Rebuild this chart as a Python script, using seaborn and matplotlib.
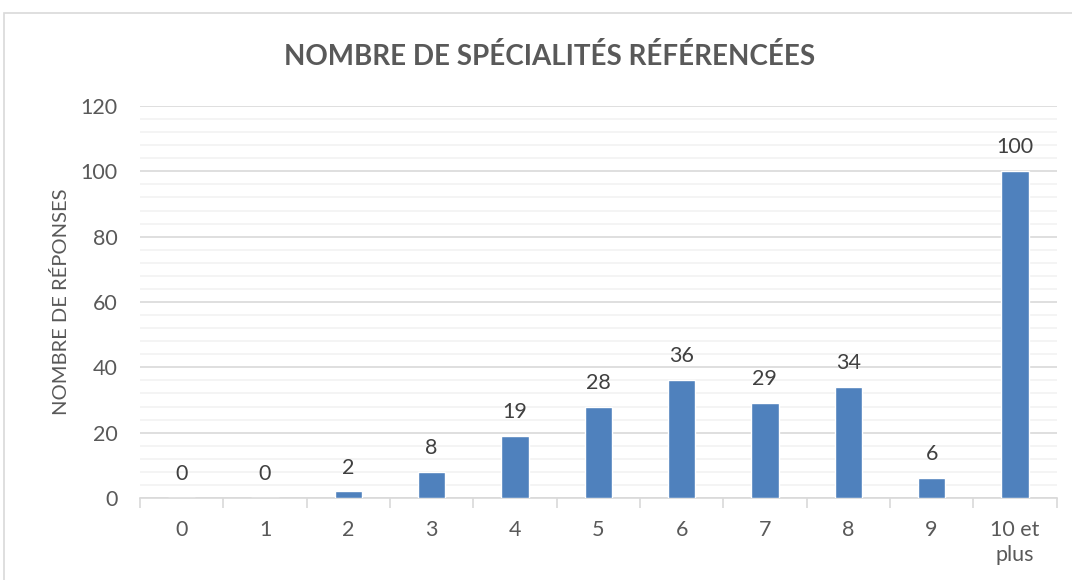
#!/usr/bin/env python3

import numpy as np
import pandas as pd
import matplotlib
matplotlib.use("Agg")
import matplotlib.pyplot as plt
from matplotlib.patches import Rectangle
from matplotlib.ticker import MultipleLocator
import seaborn as sns

# ======================================================
# DATA
# ======================================================
CATEGORIES = ["0", "1", "2", "3", "4", "5", "6", "7", "8", "9", "10 et\nplus"]
RESPONSES = [0, 0, 2, 8, 19, 28, 36, 29, 34, 6, 100]

TITLE = "NOMBRE DE SPÉCIALITÉS RÉFÉRENCÉES"
YLABEL = "NOMBRE DE RÉPONSES"

BAR_COLOR = "#4F81BD"
TEXT_COLOR = "#595959"

# ======================================================
# PLOT
# ======================================================
sns.set_theme(style="white")
plt.rcParams["font.family"] = ["Lato", "DejaVu Sans"]

df = pd.DataFrame({"Categorie": CATEGORIES, "Reponses": RESPONSES})

fig = plt.figure(figsize=(10.72, 5.8), dpi=100)
ax = fig.add_axes([0.1306, 0.1414, 0.855, 0.6759])

sns.barplot(
    data=df,
    x="Categorie",
    y="Reponses",
    color=BAR_COLOR,
    width=0.33,
    saturation=1,
    ax=ax,
    zorder=3,
)

# ---- axes / grid ----
ax.set_ylim(0, 120)
ax.set_xlim(-0.5, len(CATEGORIES) - 0.5)
ax.yaxis.set_major_locator(MultipleLocator(20))
ax.yaxis.set_minor_locator(MultipleLocator(4))
ax.grid(axis="y", which="major", color="#D9D9D9", linewidth=1.2, zorder=0)
ax.grid(axis="y", which="minor", color="#F2F2F2", linewidth=1.2, zorder=0)
ax.set_axisbelow(True)

for side in ["top", "right", "left"]:
    ax.spines[side].set_visible(False)
ax.spines["bottom"].set_color("#D9D9D9")
ax.spines["bottom"].set_linewidth(1.2)

# category boundary ticks on x axis
ax.set_xticks(np.arange(len(CATEGORIES)))
ax.set_xticklabels(CATEGORIES, linespacing=1.3)
ax.set_xticks(np.arange(len(CATEGORIES) + 1) - 0.5, minor=True)
ax.tick_params(axis="x", which="major", length=0, pad=16,
               labelsize=15.5, labelcolor=TEXT_COLOR)
ax.tick_params(axis="x", which="minor", length=7, width=1.2,
               color="#D9D9D9", bottom=True)
ax.tick_params(axis="y", which="both", length=0, pad=16,
               labelsize=15.5, labelcolor=TEXT_COLOR)

ax.set_xlabel("")
ax.set_ylabel(YLABEL, fontsize=14.5, color=TEXT_COLOR, labelpad=8)

# ---- data labels ----
for i, v in enumerate(RESPONSES):
    ax.annotate(str(v), (i, v), xytext=(0, 10), textcoords="offset points",
                ha="center", va="bottom", fontsize=15.5, color="#404040")

# ---- title ----
fig.text(0.513, 0.903, TITLE, ha="center", va="center",
         fontsize=20, fontweight="bold", color=TEXT_COLOR)

# ---- chart border ----
fig.patches.append(Rectangle((0.004, -0.01), 1.0, 0.988, transform=fig.transFigure,
                             fill=False, edgecolor="#D9D9D9", linewidth=1.2))

fig.savefig("out.png", dpi=100)
plt.close(fig)
